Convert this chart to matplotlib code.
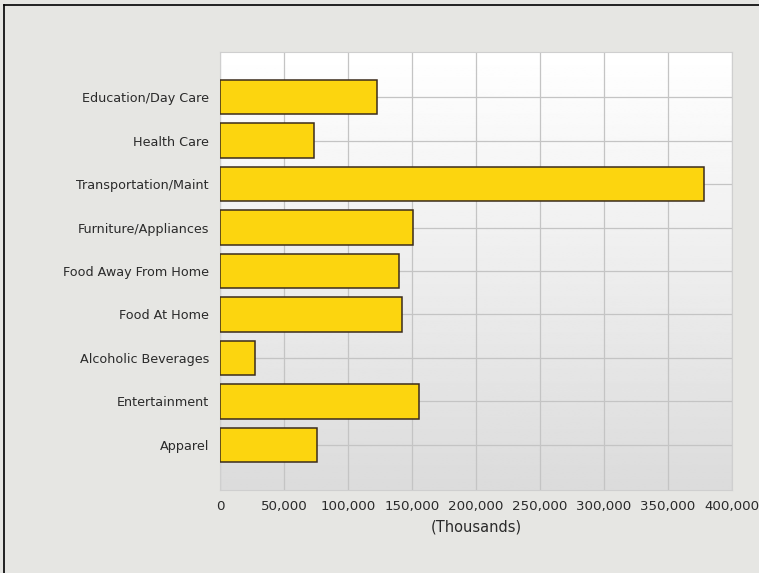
import numpy as np
import matplotlib.pyplot as plt
from matplotlib.lines import Line2D
from matplotlib.ticker import FuncFormatter

categories = ['Education/Day Care', 'Health Care', 'Transportation/Maint',
              'Furniture/Appliances', 'Food Away From Home', 'Food At Home',
              'Alcoholic Beverages', 'Entertainment', 'Apparel']
values = [122400, 73700, 377900, 150800, 139600, 142400, 27100, 155200, 75500]
x_ticks = [0, 50000, 100000, 150000, 200000, 250000, 300000, 350000, 400000]

fig = plt.figure(figsize=(7.59, 5.73), dpi=100)
fig.patch.set_facecolor('#e6e6e3')
ax = fig.add_axes([220/759, 1-490/573, 512/759, 438/573])

# reversed so first category sits on top
y = np.arange(len(categories))[::-1]

# background gradient white -> light grey
grad = np.linspace(1.0, 0.86, 256).reshape(-1, 1)
ax.imshow(grad, cmap='gray', vmin=0, vmax=1, aspect='auto',
          extent=[0, 400000, -1.04, len(categories) - 1 + 1.04], zorder=0)

ax.barh(y, values, height=0.79, color='#fcd50f', edgecolor='#3b2c1c',
        linewidth=1.1, zorder=3)

ax.set_xlim(0, 400000)
ax.set_ylim(-1.04, len(categories) - 1 + 1.04)
ax.set_xticks(x_ticks)
ax.xaxis.set_major_formatter(FuncFormatter(lambda v, p: f'{int(v):,}'))
ax.set_yticks(y)
ax.set_yticklabels(categories)
ax.grid(True, color='#c4c4c4', linewidth=0.9, zorder=1)
ax.set_axisbelow(True)
ax.tick_params(axis='y', length=0, labelsize=9.2, colors='#2a2a2a', pad=8)
ax.tick_params(axis='x', length=0, labelsize=9.6, colors='#2a2a2a', pad=7)
for s in ax.spines.values():
    s.set_color('#cfcfcf')
ax.set_xlabel('(Thousands)', fontsize=10.5, color='#2a2a2a', labelpad=5)

# outer frame lines (top and left)
fig.add_artist(Line2D([4/759, 1], [1-5/573, 1-5/573], color='black', linewidth=1.2))
fig.add_artist(Line2D([4/759, 4/759], [0, 1-5/573], color='black', linewidth=1.2))

fig.savefig('out.png', dpi=100, facecolor=fig.get_facecolor())
